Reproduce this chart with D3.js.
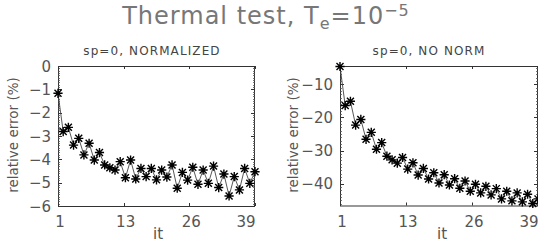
<!DOCTYPE html>
<html><head><meta charset="utf-8">
<script src="https://cdn.jsdelivr.net/npm/d3@7"></script>
<style>
body{margin:0;background:#fff}
svg{display:block}
text{font-family:"DejaVu Sans","Liberation Sans",sans-serif;fill:#333}
</style>
</head><body>
<svg id="chart" width="538" height="243"></svg>
<script>
// ---- data ----
const iterations = [1,2,3,4,5,6,7,8,9,10,11,12,13,14,15,16,17,18,19,20,21,22,23,24,25,26,27,28,29,30,31,32,33,34,35,36,37,38,39];
const normalizedError = [-1.17,-2.81,-2.63,-3.39,-3.10,-3.81,-3.31,-4.03,-3.71,-4.24,-4.36,-4.46,-4.10,-4.79,-4.03,-4.84,-4.39,-4.74,-4.39,-4.88,-4.46,-4.76,-4.24,-5.24,-4.56,-4.89,-4.34,-5.07,-4.46,-5.03,-4.29,-5.21,-4.63,-5.57,-4.74,-5.31,-4.39,-5.03,-4.53];
const noNormError = [-4.6,-16.4,-15.1,-22.3,-20.6,-26.6,-24.5,-29.6,-27.6,-31.7,-32.8,-33.8,-32.1,-35.6,-33.7,-37.4,-35.4,-38.6,-36.7,-39.8,-37.3,-40.4,-38.5,-41.4,-39.2,-42.3,-40.2,-42.8,-40.8,-43.4,-41.5,-44.6,-42.3,-45.2,-42.8,-45.5,-43.2,-46.0,-44.6];
const xTickLabels = ["1","13","26","39"];
const normYTicks = [0,-1,-2,-3,-4,-5,-6];
const noNormYTicks = [-10,-20,-30,-40];
const panelTitles = ["sp=0, NORMALIZED","sp=0, NO NORM"];
const xAxisTitle = "it";
const yAxisTitle = "relative error (%)";

const svg = d3.select("#chart");

// main title
const t = svg.append("text").attr("x",266).attr("y",24).attr("text-anchor","middle")
  .style("font-size","24px").style("letter-spacing","1px").style("fill","#777");
t.append("tspan").text("Thermal test, T");
t.append("tspan").attr("dy",5).style("font-size","16px").text("e");
t.append("tspan").attr("dy",-5).text("=10");
t.append("tspan").attr("dy",-8).style("font-size","16px").text("\u22125");

function panel(cfg){
  const x = d3.scaleLinear().domain([1,39]).range([cfg.x0,cfg.x1]);
  const y = d3.scaleLinear().domain(cfg.yDomain).range([cfg.y1,cfg.y0]);
  const g = svg.append("g");
  const xTickVals = xTickLabels.map((d,i)=>1+i*38/3);

  // frame
  g.append("rect").attr("x",cfg.x0+0.5).attr("y",cfg.y0+0.5)
    .attr("width",cfg.x1-cfg.x0-1).attr("height",cfg.y1-cfg.y0)
    .attr("fill","none").attr("stroke","#333").attr("stroke-width",1);

  // y ticks (major + minor) on left and right
  const [ylo,yhi] = cfg.yDomain;
  const minors = [];
  for(let v=Math.ceil(ylo/cfg.minorStep)*cfg.minorStep; v<=yhi+1e-9; v+=cfg.minorStep) minors.push(v);
  g.selectAll(null).data(minors).join("line")
    .attr("x1",cfg.x0).attr("x2",cfg.x0+2).attr("y1",d=>Math.round(y(d))+0.5).attr("y2",d=>Math.round(y(d))+0.5)
    .attr("stroke","#555").attr("stroke-width",0.8);
  g.selectAll(null).data(minors).join("line")
    .attr("x1",cfg.x1-2).attr("x2",cfg.x1).attr("y1",d=>Math.round(y(d))+0.5).attr("y2",d=>Math.round(y(d))+0.5)
    .attr("stroke","#555").attr("stroke-width",0.8);
  g.selectAll(null).data(cfg.yTicks).join("line")
    .attr("x1",cfg.x0).attr("x2",cfg.x0+4).attr("y1",d=>Math.round(y(d))+0.5).attr("y2",d=>Math.round(y(d))+0.5)
    .attr("stroke","#333");
  g.selectAll(null).data(cfg.yTicks).join("line")
    .attr("x1",cfg.x1-4).attr("x2",cfg.x1).attr("y1",d=>Math.round(y(d))+0.5).attr("y2",d=>Math.round(y(d))+0.5)
    .attr("stroke","#333");
  g.selectAll(null).data(cfg.yTicks).join("text")
    .attr("x",cfg.x0-7).attr("y",d=>y(d)+5.5).attr("text-anchor","end")
    .style("font-size","15px").style("fill","#555")
    .text(d=>d===0?"0":"\u2212"+Math.abs(d));

  // x ticks
  g.selectAll(null).data(xTickVals).join("line")
    .attr("x1",d=>Math.round(x(d))+0.5).attr("x2",d=>Math.round(x(d))+0.5)
    .attr("y1",cfg.y1).attr("y2",cfg.y1-3).attr("stroke","#333");
  g.selectAll(null).data(xTickVals).join("line")
    .attr("x1",d=>Math.round(x(d))+0.5).attr("x2",d=>Math.round(x(d))+0.5)
    .attr("y1",cfg.y0).attr("y2",cfg.y0+3).attr("stroke","#333");
  g.selectAll(null).data(xTickVals).join("text")
    .attr("x",(d,i)=>x(d)+(i===3?-9:2)).attr("y",227).attr("text-anchor","middle")
    .style("font-size","15px").style("fill","#555")
    .text((d,i)=>xTickLabels[i]);

  g.append("text").attr("x",cfg.itX).attr("y",239).attr("text-anchor","middle")
    .style("font-size","15px").style("fill","#555").text(xAxisTitle);
  g.append("text").attr("transform",`translate(${cfg.ylabX},135) rotate(-90)`)
    .attr("text-anchor","middle").attr("dy","0.35em")
    .style("font-size","13.5px").style("fill","#555").text(yAxisTitle);
  g.append("text").attr("x",cfg.titleX).attr("y",55).attr("text-anchor","middle")
    .style("font-size","12px").style("fill","#444").style("letter-spacing","1.1px").text(cfg.title);

  // line + asterisks
  const pts = iterations.map((it,i)=>[x(it),y(cfg.values[i])]);
  g.append("path").attr("d",d3.line()(pts)).attr("fill","none").attr("stroke","#444").attr("stroke-width",0.9);
  const r = 4.6, rd = 3.5;
  const star = `M0,${-r}V${r}M${-r},0H${r}M${-rd},${-rd}L${rd},${rd}M${-rd},${rd}L${rd},${-rd}`;
  g.selectAll(null).data(pts).join("path")
    .attr("transform",d=>`translate(${d[0]},${d[1]})`)
    .attr("d",star).attr("fill","none").attr("stroke","#000").attr("stroke-width",1.4);
}

panel({x0:58,x1:255,y0:66,y1:206,yDomain:[-6,0],yTicks:normYTicks,minorStep:0.1,
  values:normalizedError,title:panelTitles[0],titleX:152,itX:158,ylabX:13});
panel({x0:340,x1:538,y0:66,y1:205.5,yDomain:[-46.6,-4.45],yTicks:noNormYTicks,minorStep:1,
  values:noNormError,title:panelTitles[1],titleX:429,itX:442,ylabX:293});
</script>
</body></html>
